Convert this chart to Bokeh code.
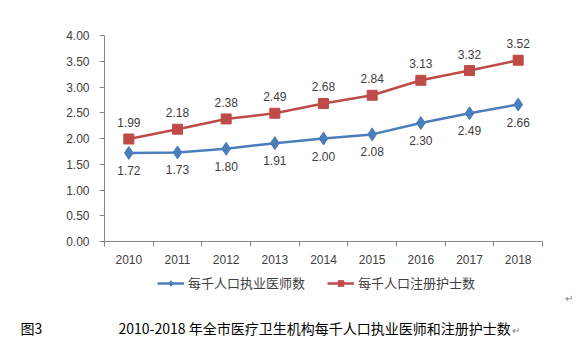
from bokeh.plotting import figure
from bokeh.layouts import column
from bokeh.models import (ColumnDataSource, Range1d, FixedTicker, NumeralTickFormatter,
                          Legend, LegendItem, Label, LabelSet)
from bokeh.core.properties import value
from bokeh.embed import file_html
from bokeh.resources import INLINE

years = [2010, 2011, 2012, 2013, 2014, 2015, 2016, 2017, 2018]
doctors = [1.72, 1.73, 1.80, 1.91, 2.00, 2.08, 2.30, 2.49, 2.66]
nurses = [1.99, 2.18, 2.38, 2.49, 2.68, 2.84, 3.13, 3.32, 3.52]
y_ticks = [0, 0.5, 1.0, 1.5, 2.0, 2.5, 3.0, 3.5, 4.0]
name_doc = "每千人口执业医师数"
name_nur = "每千人口注册护士数"
caption_no = "图3"
caption = "2010-2018 年全市医疗卫生机构每千人口执业医师和注册护士数"

BLUE = "#4A7EBB"
RED = "#BE4B48"
AXIS = "#868686"
TXT = "#404040"
NUM_FONT = "Liberation Sans"
CJK = "Noto Sans CJK SC"
W = 576

src = ColumnDataSource(dict(x=years, d=doctors, n=nurses,
                            dl=[f"{v:.2f}" for v in doctors],
                            nl=[f"{v:.2f}" for v in nurses]))

p = figure(width=W, height=270, output_backend="svg", toolbar_location=None,
           x_range=Range1d(years[0] - 0.5, years[-1] + 0.5),
           y_range=Range1d(y_ticks[0], y_ticks[-1]),
           min_border_left=104, min_border_right=W - 542, min_border_top=35,
           min_border_bottom=29)
p.frame_align = False
p.outline_line_color = None
p.xgrid.visible = False
p.ygrid.visible = False

# y axis
p.yaxis.ticker = FixedTicker(ticks=y_ticks)
p.yaxis.formatter = NumeralTickFormatter(format="0.00")
p.yaxis.axis_line_color = AXIS
p.yaxis.major_tick_line_color = AXIS
p.yaxis.major_tick_out = 5
p.yaxis.major_tick_in = 0
p.yaxis.minor_tick_line_color = None
p.yaxis.major_label_text_font = NUM_FONT
p.yaxis.major_label_text_font_size = "12px"
p.yaxis.major_label_text_color = TXT
p.yaxis.major_label_standoff = 10

# x axis
p.xaxis.ticker = FixedTicker(ticks=years, minor_ticks=[y - 0.5 for y in years] + [years[-1] + 0.5])
p.xaxis.axis_line_color = AXIS
p.xaxis.major_tick_line_color = None
p.xaxis.minor_tick_line_color = AXIS
p.xaxis.minor_tick_out = 5
p.xaxis.minor_tick_in = 0
p.xaxis.major_label_text_font = NUM_FONT
p.xaxis.major_label_text_font_size = "12px"
p.xaxis.major_label_text_color = TXT
p.xaxis.major_label_standoff = 7

p.line("x", "d", source=src, line_color=BLUE, line_width=2.5)
p.scatter("x", "d", source=src, marker="diamond", size=13, fill_color=BLUE, line_color=BLUE)
p.line("x", "n", source=src, line_color=RED, line_width=2.5)
p.scatter("x", "n", source=src, marker="square", size=10, fill_color=RED, line_color=RED)

p.add_layout(LabelSet(x="x", y="d", text="dl", source=src, x_offset=0, y_offset=-13,
                      text_align="center", text_baseline="top", text_font=value(NUM_FONT),
                      text_font_size=value("12px"), text_color=TXT))
p.add_layout(LabelSet(x="x", y="n", text="nl", source=src, x_offset=0, y_offset=12,
                      text_align="center", text_baseline="bottom", text_font=value(NUM_FONT),
                      text_font_size=value("12px"), text_color=TXT))

# legend + caption panel
H2 = 80
q = figure(width=W, height=H2, output_backend="svg", toolbar_location=None,
           x_axis_type=None, y_axis_type=None,
           x_range=Range1d(0, W), y_range=Range1d(0, H2),
           min_border=0)
q.frame_align = False
q.outline_line_color = None
q.xgrid.visible = False
q.ygrid.visible = False
nan = float("nan")
empty = ColumnDataSource(dict(x=[nan], y=[nan]))
r1 = q.line("x", "y", source=empty, line_color=BLUE, line_width=2.5)
s1 = q.scatter("x", "y", source=empty, marker="diamond", size=8, fill_color=BLUE, line_color=BLUE)
r2 = q.line("x", "y", source=empty, line_color=RED, line_width=2.5)
s2 = q.scatter("x", "y", source=empty, marker="square", size=7, fill_color=RED, line_color=RED)

legend = Legend(items=[LegendItem(label=name_doc, renderers=[r1, s1]),
                       LegendItem(label=name_nur, renderers=[r2, s2])],
                orientation="horizontal", location=(157, 58),
                label_text_font=CJK, label_text_font_size="13px", label_text_color=TXT,
                label_standoff=4, glyph_width=27, glyph_height=14, spacing=22,
                padding=0, margin=0, border_line_color=None, background_fill_alpha=0)
q.add_layout(legend)

q.add_layout(Label(x=20, y=23, x_units="screen", y_units="screen", text=caption_no,
                   text_font=CJK, text_font_size="14px", text_color="black",
                   text_baseline="middle"))
q.add_layout(Label(x=118, y=23, x_units="screen", y_units="screen", text=caption,
                   text_font=CJK, text_font_size="14px", text_color="black",
                   text_baseline="middle"))
q.add_layout(Label(x=511, y=21, x_units="screen", y_units="screen", text="↵",
                   text_font=CJK, text_font_size="10px", text_color="#808080",
                   text_baseline="middle"))
q.add_layout(Label(x=564, y=53, x_units="screen", y_units="screen", text="↵",
                   text_font=CJK, text_font_size="10px", text_color="#808080",
                   text_baseline="middle"))

layout = column(p, q, spacing=0)
open("out.html", "w").write(file_html(layout, INLINE))
